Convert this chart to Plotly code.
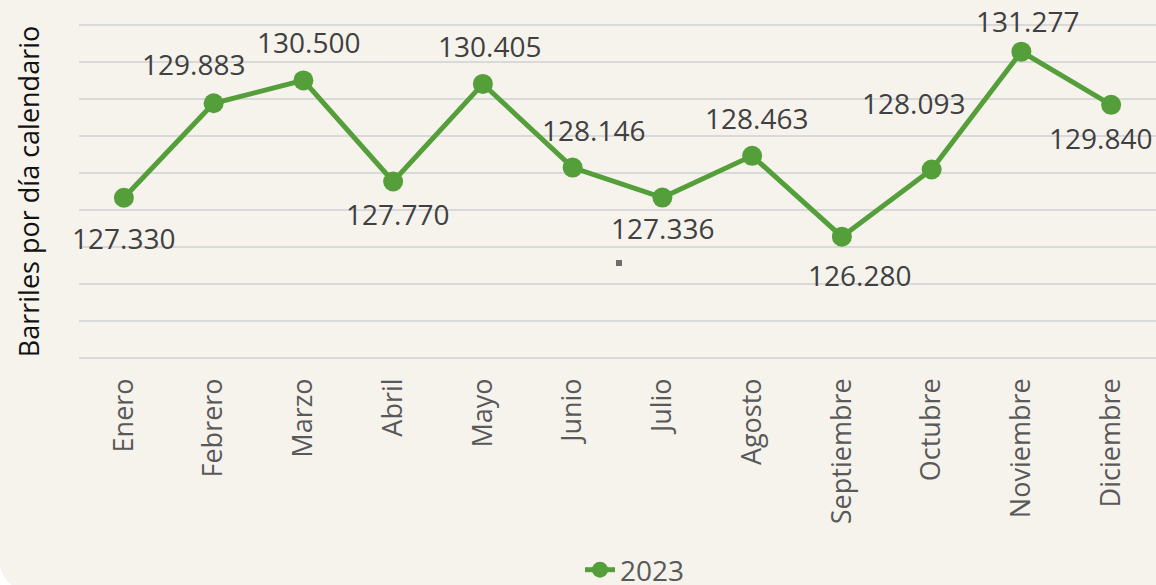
import plotly.graph_objects as go

months = ["Enero", "Febrero", "Marzo", "Abril", "Mayo", "Junio", "Julio",
          "Agosto", "Septiembre", "Octubre", "Noviembre", "Diciembre"]
values_2023 = [127330, 129883, 130500, 127770, 130405, 128146, 127336,
               128463, 126280, 128093, 131277, 129840]
series_name = "2023"
y_title = "Barriles por día calendario"

# label placement (style): (xshift px, yshift px)
label_offsets = [(0, -40), (-20, 39), (5, 38), (4, -32), (7, 38), (21, 38),
                 (0, -30), (4, 38), (18, -38), (-18, 67), (6, 31), (-11, -33)]

GREEN = "#559f3b"
BG = "#f6f3ed"
FONT = "Open Sans"

W, H = 1156, 585
ML, MR, MT, MB = 79, 0, 23, 225
PW, PH = W - ML - MR, H - MT - MB


def px(x):
    return (x - ML) / PW


def py(y):
    return (H - MB - y) / PH


fig = go.Figure()
fig.add_trace(go.Scatter(
    x=months, y=values_2023, name=series_name, mode="lines+markers",
    line=dict(color=GREEN, width=5),
    marker=dict(color=GREEN, size=20),
))

for m, v, (dx, dy) in zip(months, values_2023, label_offsets):
    fig.add_annotation(x=m, y=v, text=f"{v/1000:.3f}", showarrow=False,
                       xshift=dx, yshift=dy,
                       font=dict(family=FONT, size=28, color="#404040"))

corner = (f"M {px(-1)} {py(586)} L {px(-1)} {py(562)} "
          f"Q {px(1)} {py(578)} {px(13)} {py(586)} Z")

fig.update_layout(
    width=W, height=H,
    paper_bgcolor=BG, plot_bgcolor=BG,
    margin=dict(l=ML, r=MR, t=MT, b=MB, pad=0, autoexpand=False),
    font=dict(family=FONT),
    showlegend=True,
    legend=dict(x=px(635), xanchor="center", y=py(570), yanchor="middle",
                orientation="h", font=dict(size=28, color="#595959"),
                bgcolor="rgba(0,0,0,0)"),
    shapes=[
        dict(type="path", xref="paper", yref="paper", path=corner,
             fillcolor="white", line=dict(width=0), layer="above"),
        dict(type="rect", xref="paper", yref="paper",
             x0=px(616), x1=px(622), y0=py(266), y1=py(260),
             fillcolor="#6d6d6d", line=dict(width=0)),
    ],
)
fig.update_xaxes(
    type="category", range=[-0.5, 11.5], tickangle=-90, automargin=False,
    tickfont=dict(family=FONT, size=27, color="#595959"),
    showgrid=False, showline=False, ticks="", ticklabelstandoff=12,
)
fig.update_yaxes(
    range=[122950, 132050], dtick=1000, tick0=123000, automargin=False,
    showticklabels=False, showgrid=True, gridcolor="#d9d9d9", gridwidth=2,
    zeroline=False, showline=False,
    title=dict(text=y_title, font=dict(family=FONT, size=27, color="#111111"),
               standoff=30),
)

fig.write_html("out.html",
               config={"displayModeBar": False},
               post_script="document.body.style.margin='0';"
                           "document.body.style.overflow='hidden';")
